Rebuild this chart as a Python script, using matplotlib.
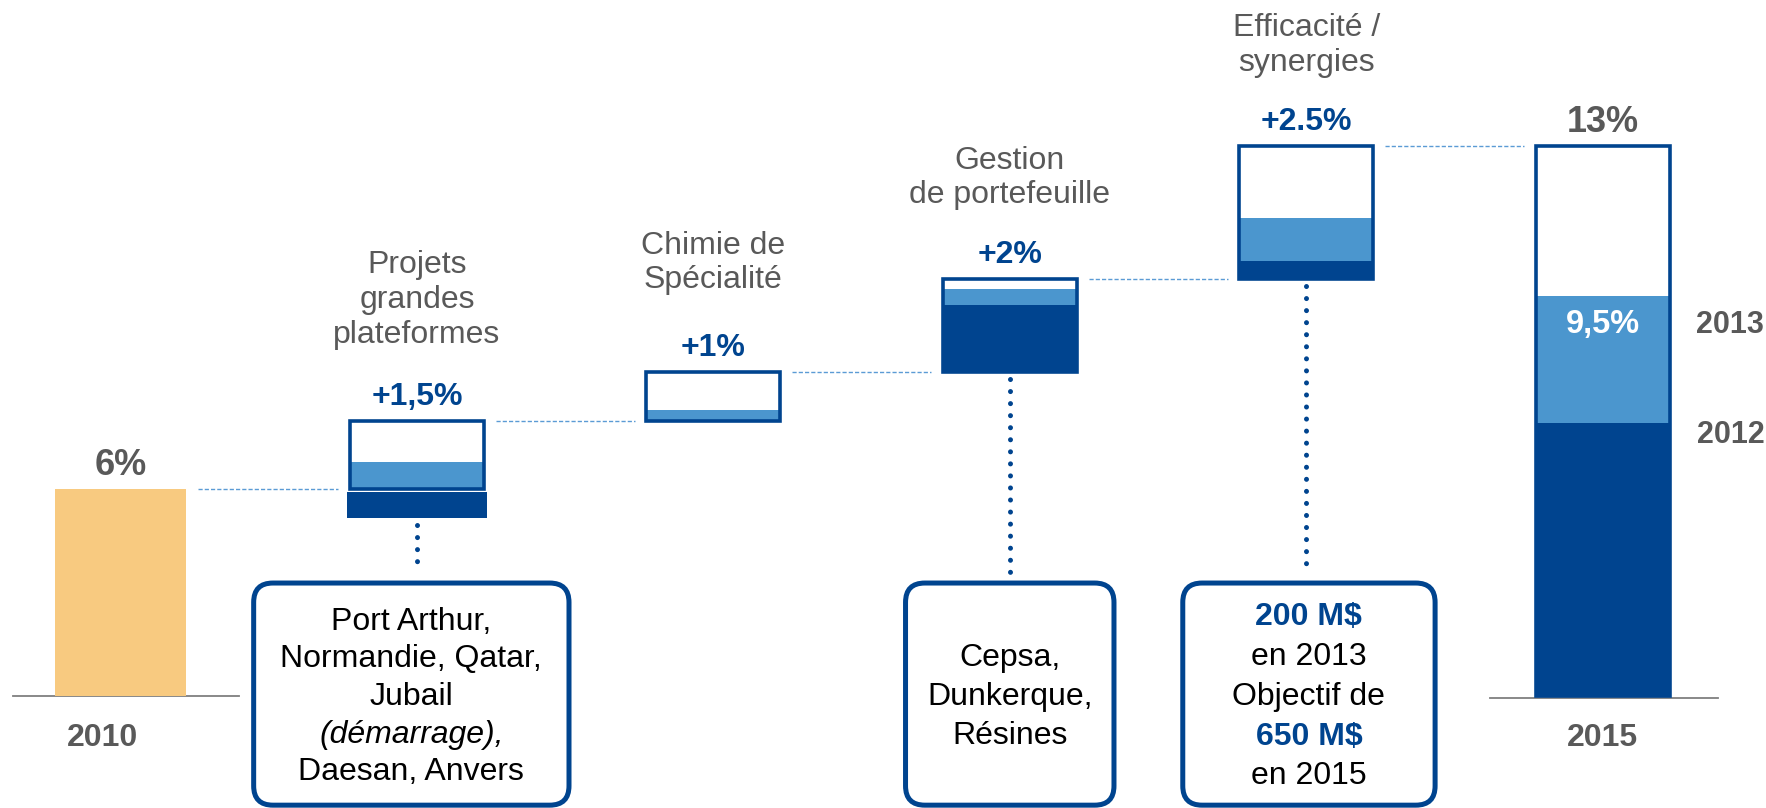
import matplotlib.pyplot as plt
from matplotlib.patches import Rectangle, FancyBboxPatch

plt.rcParams['font.family'] = ['Liberation Sans', 'DejaVu Sans']

# colours
DARK = '#00448f'
LIGHT = '#4b96ce'
ORANGE = '#f8ca80'
GRAY = '#595959'
DASH = '#5b9bd5'

# start / end bars (drawn heights, labels as printed)
start_year = "2010"
start_height = 4.9
start_label = "6%"
end_year = "2015"
end_height = 13.0
end_label = "13%"
end_2012 = 6.45
end_2013 = 3.0
end_2013_label = "9,5%"

# steps of the bridge
steps = ["Projets\ngrandes\nplateformes", "Chimie de\nSpécialité",
         "Gestion\nde portefeuille", "Efficacité /\nsynergies"]
step_labels = ["+1,5%", "+1%", "+2%", "+2.5%"]
step_heights = [1.6, 1.15, 2.2, 3.15]
done_2012 = [0.62, 0.0, 1.58, 0.43]
done_2013 = [0.64, 0.26, 0.40, 1.02]
dark_below = [True, False, False, False]
title_y = [9.36, 10.23, 12.24, 15.37]

# notes under some steps: (step index, box left, box right, lines)
notes = [
    (0, 0.4435, 1.519, [("Port Arthur,", "n"), ("Normandie, Qatar,", "n"), ("Jubail", "n"),
                        ("(démarrage),", "i"), ("Daesan, Anvers", "n")]),
    (2, 2.642, 3.357, [("Cepsa,", "n"), ("Dunkerque,", "n"), ("Résines", "n")]),
    (3, 3.577, 4.44, [("200 M$", "b"), ("en 2013", "n"), ("Objectif de", "n"),
                      ("650 M$", "b"), ("en 2015", "n")]),
]
note_spacing = [0.89, 0.93, 0.94]

fig = plt.figure(figsize=(17.66, 8.08), dpi=100)
ax = fig.add_axes([0, 0, 1, 1])
xlim = (-0.406, 5.55)
ylim = (-2.647, 16.45)
ax.set_xlim(*xlim)
ax.set_ylim(*ylim)
ax.axis('off')
asp = (1766 / (xlim[1] - xlim[0])) / (808 / (ylim[1] - ylim[0]))

W = 0.452

# start bar
ax.bar(0, start_height, width=0.442, color=ORANGE, zorder=2)
ax.plot([-0.363, 0.399], [0, 0], color='#7f7f7f', lw=1.3, zorder=1)
ax.text(0, start_height + 0.33, start_label, ha='center', va='baseline',
        fontsize=26, fontweight='bold', color=GRAY)
ax.text(-0.06, -0.99, start_year, ha='center', va='center', fontsize=23,
        fontweight='bold', color=GRAY)

# steps
base = start_height
prev_right = 0.221
tops = []
for i, h in enumerate(step_heights):
    x = i + 1
    left = x - W / 2
    # dashed connector from previous level
    ax.plot([prev_right + 0.04, left - 0.04], [base, base], color=DASH, lw=1,
            ls=(0, (3, 1.5)), zorder=1)
    if dark_below[i]:
        ax.bar(x, done_2012[i], bottom=base - 0.08 - done_2012[i], width=W + 0.02,
               color=DARK, zorder=2)
        ax.bar(x, done_2013[i], bottom=base, width=W, color=LIGHT, zorder=2)
    else:
        ax.bar(x, done_2012[i], bottom=base, width=W, color=DARK, zorder=2)
        ax.bar(x, done_2013[i], bottom=base + done_2012[i], width=W, color=LIGHT, zorder=2)
    ax.add_patch(Rectangle((left, base), W, h, fill=False, ec=DARK, lw=2.6, zorder=3))
    top = base + h
    ax.text(x, top + 0.38, step_labels[i], ha='center', va='baseline', fontsize=23,
            fontweight='bold', color=DARK)
    ax.text(x, title_y[i], steps[i], ha='center', va='center', fontsize=23,
            color=GRAY, linespacing=1.2)
    tops.append(top)
    prev_right = x + W / 2
    base = top

# end bar
ax.plot([prev_right + 0.04, 5 - W / 2 - 0.04], [base, base], color=DASH, lw=1,
        ls=(0, (3, 1.5)), zorder=1)
ax.bar(5, end_2012, width=W, color=DARK, zorder=2)
ax.bar(5, end_2013, bottom=end_2012, width=W, color=LIGHT, zorder=2)
ax.add_patch(Rectangle((5 - W / 2, 0), W, end_height, fill=False, ec=DARK, lw=2.6, zorder=3))
ax.plot([4.618, 5.387], [-0.04, -0.04], color='#7f7f7f', lw=1.3, zorder=1)
ax.text(5, end_height + 0.33, end_label, ha='center', va='baseline', fontsize=26,
        fontweight='bold', color=GRAY)
ax.text(5, end_2012 + end_2013 - 0.68, end_2013_label, ha='center', va='center',
        fontsize=23.5, fontweight='bold', color='white', zorder=4)
ax.text(5.43, end_2012 + end_2013 - 0.68, "2013", ha='center', va='center',
        fontsize=22, fontweight='bold', color=GRAY)
ax.text(5.43, end_2012 - 0.28, "2012", ha='center', va='center',
        fontsize=22, fontweight='bold', color=GRAY)
ax.text(5, -0.99, end_year, ha='center', va='center', fontsize=23,
        fontweight='bold', color=GRAY)

# notes
note_top = 2.67
note_bottom = -2.58
for (idx, nl, nr, lines), sp in zip(notes, note_spacing):
    x = idx + 1
    low = tops[idx] - step_heights[idx]
    if dark_below[idx]:
        low = low - 0.08 - done_2012[idx]
    ax.plot([x, x], [low - 0.15, note_top + 0.25], color=DARK, lw=3.6,
            ls=(0, (0.01, 2.4)), dash_capstyle='round', zorder=2)
    ax.add_patch(FancyBboxPatch((nl + 0.006, note_bottom), nr - nl - 0.012,
                                note_top - note_bottom,
                                boxstyle="round,pad=0,rounding_size=0.065",
                                mutation_aspect=asp, fc='white', ec=DARK, lw=3.6, zorder=3))
    cx = (nl + nr) / 2
    n = len(lines)
    for k, (txt, st) in enumerate(lines):
        y = -0.02 + (n - 1) / 2 * sp - k * sp
        if st == "b":
            ax.text(cx, y, txt, ha='center', va='center', fontsize=23,
                    fontweight='bold', color=DARK, zorder=4)
        elif st == "i":
            ax.text(cx, y, txt, ha='center', va='center', fontsize=23,
                    style='italic', color='black', zorder=4)
        else:
            ax.text(cx, y, txt, ha='center', va='center', fontsize=23,
                    color='black', zorder=4)

plt.savefig("out.png", dpi=100)
